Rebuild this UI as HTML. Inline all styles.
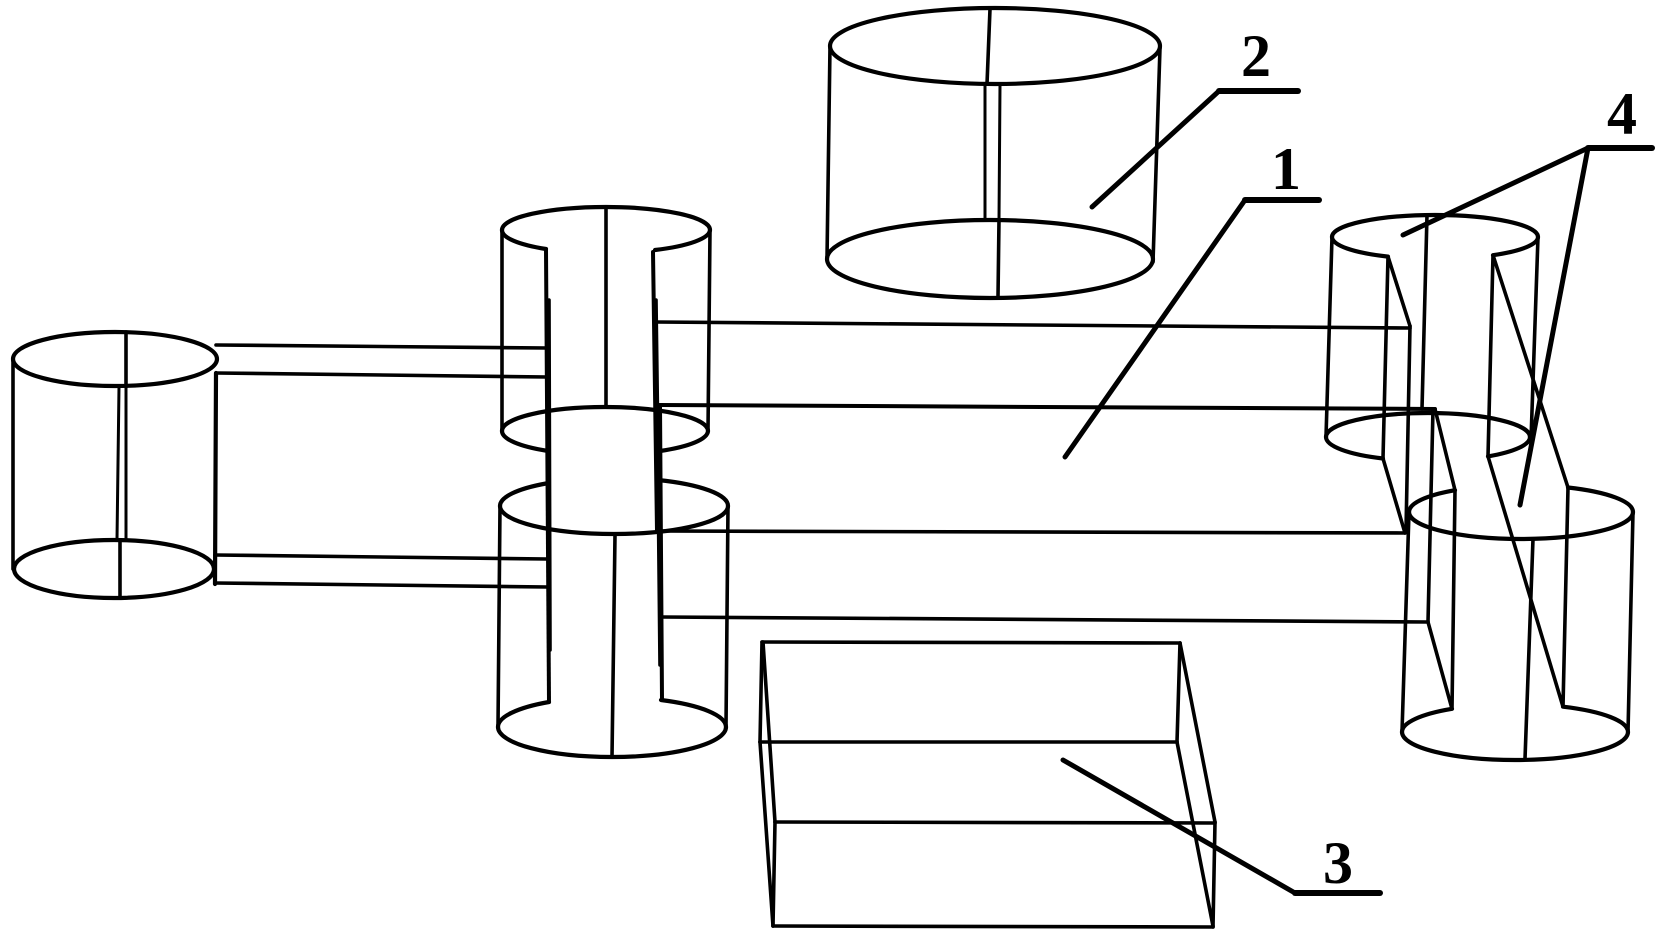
<!DOCTYPE html>
<html><head><meta charset="utf-8"><style>
html,body{margin:0;padding:0;background:#fff;}
svg{display:block;}
text{font-family:"Liberation Serif",serif;font-weight:bold;font-size:60px;fill:#000;}
</style></head><body>
<svg width="1656" height="941" viewBox="0 0 1656 941" xmlns="http://www.w3.org/2000/svg">
<g fill="none" stroke="#000" stroke-width="3.6" stroke-linecap="round" stroke-linejoin="round">
<!-- Cylinder A (left) -->
<ellipse cx="115" cy="359" rx="102" ry="27" stroke-width="4.2"/>
<ellipse cx="114" cy="569" rx="100" ry="29" stroke-width="4.2"/>
<line x1="13" y1="359" x2="13" y2="569"/>
<line x1="216" y1="373" x2="215" y2="584" stroke-width="4.2"/>
<line x1="126" y1="332" x2="126" y2="387"/>
<line x1="119" y1="387" x2="117" y2="540" stroke-width="3"/>
<line x1="126" y1="387" x2="126" y2="540" stroke-width="3"/>
<line x1="120" y1="540" x2="120" y2="598"/>
<!-- pipes A-B -->
<line x1="216" y1="345" x2="547" y2="348"/>
<line x1="216" y1="373" x2="547" y2="377"/>
<line x1="215" y1="555" x2="547" y2="559"/>
<line x1="215" y1="583" x2="547" y2="587"/>

<!-- Cylinder B -->
<path d="M502 230 A104 23 0 0 1 710 230" stroke-width="4.2"/>
<path d="M502 230 A104 23 0 0 0 546 249" stroke-width="4.2"/>
<path d="M655 250 A104 23 0 0 0 710 230" stroke-width="4.2"/>
<line x1="502" y1="230" x2="502" y2="431"/>
<line x1="710" y1="230" x2="708" y2="431"/>
<line x1="606" y1="207" x2="606" y2="407"/>
<path d="M502 431 A103 24 0 0 1 708 431" stroke-width="4.2"/>
<path d="M502 431 A103 24 0 0 0 548 451" stroke-width="4.2"/>
<path d="M660 451 A103 24 0 0 0 708 431" stroke-width="4.2"/>

<!-- Cylinder C -->
<path d="M500 506 A114 28 0 0 0 728 506" stroke-width="4.2"/>
<path d="M500 506 A114 28 0 0 1 546 483.5" stroke-width="4.2"/>
<path d="M658 480 A114 28 0 0 1 728 506" stroke-width="4.2"/>
<line x1="500" y1="506" x2="498" y2="727"/>
<line x1="728" y1="506" x2="726" y2="727"/>
<line x1="615" y1="535" x2="612" y2="757"/>
<path d="M498 727 A114 30 0 0 0 726 727" stroke-width="4.2"/>
<path d="M498 727 A114 30 0 0 1 549 702" stroke-width="4.2"/>
<path d="M661 700 A114 30 0 0 1 726 727" stroke-width="4.2"/>

<!-- channel lines left -->
<line x1="546" y1="249" x2="549" y2="702" stroke-width="4"/>
<line x1="549" y1="300" x2="550" y2="650" stroke-width="3.6"/>
<line x1="653" y1="252" x2="657" y2="531" stroke-width="4"/>
<line x1="656" y1="300" x2="659" y2="530"/>
<line x1="660" y1="405" x2="662" y2="700" stroke-width="4"/>
<line x1="658" y1="470" x2="660" y2="665"/>

<!-- cuboid 1 -->
<line x1="655" y1="322" x2="1410" y2="328"/>
<line x1="660" y1="405" x2="1435" y2="409" stroke-width="4"/>
<line x1="660" y1="531" x2="1405" y2="533"/>
<line x1="662" y1="617" x2="1428" y2="622"/>

<!-- Cylinder D -->
<path d="M1332 237 A103 22 0 0 1 1538 237" stroke-width="4.2"/>
<path d="M1332 237 A103 22 0 0 0 1388 256.6" stroke-width="4.2"/>
<path d="M1493 255.2 A103 22 0 0 0 1538 237" stroke-width="4.2"/>
<line x1="1332" y1="237" x2="1326" y2="437"/>
<line x1="1538" y1="237" x2="1531" y2="440"/>
<line x1="1427" y1="215" x2="1422" y2="409"/>
<path d="M1326 437 A102 24 0 0 1 1530 437" stroke-width="4.2"/>
<path d="M1326 437 A102 24 0 0 0 1383 458.5" stroke-width="4.2"/>
<path d="M1488 456.4 A102 24 0 0 0 1530 437" stroke-width="4.2"/>

<!-- Cylinder E -->
<path d="M1409 512 A112 27 0 0 0 1633 512" stroke-width="4.2"/>
<path d="M1409 512 A112 27 0 0 1 1455 490.2" stroke-width="4.2"/>
<path d="M1568 487.5 A112 27 0 0 1 1633 512" stroke-width="4.2"/>
<line x1="1409" y1="512" x2="1402" y2="732"/>
<line x1="1633" y1="512" x2="1628" y2="732"/>
<line x1="1533" y1="539" x2="1525" y2="759"/>
<path d="M1402 732 A113 28 0 0 0 1628 732" stroke-width="4.2"/>
<path d="M1402 732 A113 28 0 0 1 1452 708.8" stroke-width="4.2"/>
<path d="M1563 706.7 A113 28 0 0 1 1628 732" stroke-width="4.2"/>

<!-- right channel lines -->
<line x1="1388" y1="256.6" x2="1383" y2="458.5"/>
<line x1="1388" y1="256.6" x2="1410" y2="326"/>
<line x1="1410" y1="326" x2="1406" y2="531"/>
<line x1="1383" y1="458.5" x2="1405" y2="533"/>
<line x1="1493" y1="255.2" x2="1488" y2="456.4"/>
<line x1="1493" y1="255.2" x2="1568" y2="487.5"/>
<line x1="1488" y1="456.4" x2="1563" y2="706.7"/>
<line x1="1455" y1="490.2" x2="1452" y2="708.8"/>
<line x1="1568" y1="487.5" x2="1563" y2="706.7"/>
<line x1="1435" y1="409" x2="1455" y2="490.2"/>
<line x1="1433" y1="409" x2="1428" y2="622"/>
<line x1="1428" y1="622" x2="1452" y2="708.8"/>

<!-- Cylinder 2 (top) -->
<ellipse cx="995" cy="46" rx="165" ry="38" stroke-width="4.2"/>
<ellipse cx="990" cy="259" rx="163" ry="39" stroke-width="4.2"/>
<line x1="830" y1="46" x2="827" y2="259"/>
<line x1="1160" y1="48" x2="1153" y2="262"/>
<line x1="990" y1="9" x2="987" y2="84"/>
<line x1="985" y1="84" x2="985" y2="220" stroke-width="3"/>
<line x1="1000" y1="85" x2="999" y2="220" stroke-width="3"/>
<line x1="999" y1="220" x2="998" y2="297"/>

<!-- Box 3 -->
<line x1="762" y1="642" x2="1180" y2="643"/>
<line x1="760" y1="742" x2="1177" y2="742"/>
<line x1="775" y1="822" x2="1215" y2="823"/>
<line x1="773" y1="926" x2="1213" y2="927"/>
<line x1="762" y1="642" x2="760" y2="742"/>
<line x1="760" y1="742" x2="773" y2="926"/>
<line x1="763" y1="642" x2="775" y2="822"/>
<line x1="775" y1="822" x2="773" y2="926"/>
<line x1="1180" y1="643" x2="1177" y2="742"/>
<line x1="1180" y1="643" x2="1215" y2="822"/>
<line x1="1177" y1="742" x2="1213" y2="926"/>
<line x1="1215" y1="822" x2="1213" y2="927"/>
</g>

<!-- leaders -->
<g stroke="#000" stroke-linecap="round" fill="none">
<line x1="1219" y1="91" x2="1092" y2="207" stroke-width="5"/>
<line x1="1219" y1="91" x2="1298" y2="91" stroke-width="6"/>
<line x1="1245" y1="200" x2="1065" y2="457" stroke-width="5"/>
<line x1="1245" y1="200" x2="1319" y2="200" stroke-width="6"/>
<line x1="1588" y1="148" x2="1403" y2="235" stroke-width="5"/>
<line x1="1588" y1="148" x2="1520" y2="505" stroke-width="5"/>
<line x1="1588" y1="148" x2="1652" y2="148" stroke-width="6"/>
<line x1="1295" y1="893" x2="1063" y2="760" stroke-width="5"/>
<line x1="1295" y1="893" x2="1380" y2="893" stroke-width="6"/>
</g>

<text x="1256" y="76" text-anchor="middle">2</text>
<text x="1286" y="189" text-anchor="middle">1</text>
<text x="1622" y="134" text-anchor="middle">4</text>
<text x="1338" y="883" text-anchor="middle">3</text>
</svg>
</body></html>
